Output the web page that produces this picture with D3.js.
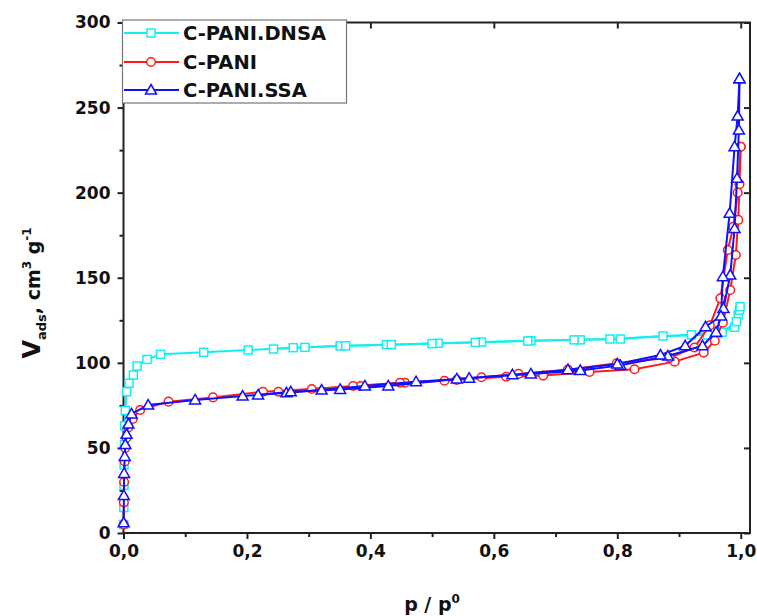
<!DOCTYPE html>
<html><head><meta charset="utf-8">
<script src="https://cdn.jsdelivr.net/npm/d3@7"></script>
<style>body{margin:0;background:#fff}svg{display:block}text{font-family:"DejaVu Sans",sans-serif;font-weight:bold}</style>
</head><body><svg id="c" width="757" height="616"></svg>
<script>
// ---- data ----
const seriesNames = ["C-PANI.DNSA", "C-PANI", "C-PANI.SSA"];
const xTicks = [0, 0.2, 0.4, 0.6, 0.8, 1.0];
const xTickLabels = ["0,0", "0,2", "0,4", "0,6", "0,8", "1,0"];
const yTicks = [0, 50, 100, 150, 200, 250, 300];
const yTickLabels = ["0", "50", "100", "150", "200", "250", "300"];

// C-PANI.DNSA adsorption / desorption
const dnsaAdsP = [0.0003, 0.0005, 0.0008, 0.001, 0.0015, 0.002, 0.003, 0.005, 0.009, 0.016, 0.022, 0.038, 0.060, 0.130, 0.202, 0.275, 0.351, 0.426, 0.51, 0.58, 0.66, 0.74, 0.805, 0.874, 0.946, 0.963, 0.990, 0.996, 0.998];
const dnsaAdsV = [5, 15, 28, 40, 52, 63, 72, 83, 88, 92.8, 98.1, 102, 105, 106.2, 107.5, 108.9, 109.9, 110.7, 111.5, 112.2, 113, 113.5, 114, 115.8, 116.4, 117.3, 120.9, 128.1, 131];
const dnsaDesP = [0.999, 0.993, 0.970, 0.92, 0.788, 0.73, 0.655, 0.57, 0.50, 0.434, 0.36, 0.294, 0.243];
const dnsaDesV = [133, 124.2, 118, 116.5, 114, 113.5, 112.8, 112, 111.3, 110.7, 110, 109.1, 108.1];

// C-PANI adsorption / desorption
const paniAdsP = [0.0003, 0.0006, 0.001, 0.002, 0.003, 0.005, 0.008, 0.015, 0.027, 0.073, 0.145, 0.226, 0.305, 0.384, 0.456, 0.54, 0.62, 0.68, 0.755, 0.828, 0.893, 0.94, 0.958, 0.971, 0.983, 0.992, 0.996, 0.998, 1.0];
const paniAdsV = [5, 18, 30, 42, 50, 56, 62, 67, 72.3, 77.2, 79.7, 83, 84.6, 86.4, 88.3, 90, 91.8, 92.5, 94.6, 96.2, 100.7, 106, 113, 123.6, 142.8, 163.4, 184, 205, 227];
const paniDesP = [1.0, 0.995, 0.988, 0.979, 0.967, 0.95, 0.925, 0.885, 0.799, 0.72, 0.64, 0.58, 0.52, 0.448, 0.372, 0.251];
const paniDesV = [227, 200, 180, 166.3, 137.9, 122, 109, 103, 99.7, 96, 93.5, 91.5, 89.5, 88.3, 86.4, 83];

// C-PANI.SSA adsorption / desorption
const ssaAdsP = [0.0003, 0.0006, 0.001, 0.002, 0.003, 0.005, 0.008, 0.013, 0.040, 0.116, 0.193, 0.264, 0.321, 0.391, 0.474, 0.56, 0.66, 0.74, 0.805, 0.882, 0.938, 0.96, 0.972, 0.983, 0.990, 0.994, 0.997, 0.998];
const ssaAdsV = [6, 22, 35, 45, 52, 58, 64, 70, 75.2, 78.2, 80.5, 82.4, 84, 86.4, 88.9, 91, 93.5, 95.5, 98.5, 104, 110, 118, 132, 151.6, 179, 208.4, 236.8, 267];
const ssaDesP = [0.998, 0.995, 0.990, 0.982, 0.971, 0.968, 0.943, 0.91, 0.87, 0.80, 0.72, 0.63, 0.54, 0.429, 0.351, 0.271, 0.218];
const ssaDesV = [267, 245, 227, 187.9, 150.6, 127.5, 121.2, 110, 104.6, 99.3, 96, 93, 90.5, 86.4, 84.4, 83, 81.1];

const colors = ["#13eef2", "#ff1a1a", "#1010ff"];
const shapes = ["square", "circle", "triangle"];

// ---- layout ----
const svg = d3.select("#c");
const x = d3.scaleLinear().domain([0, 1.015]).range([123.5, 750]);
const y = d3.scaleLinear().domain([0, 300]).range([533, 22.5]);

// ticks
const gx = svg.append("g").attr("transform", "translate(0,533)")
  .call(d3.axisBottom(x).tickValues(xTicks).tickFormat((d, i) => xTickLabels[i]).tickSize(6).tickPadding(6));
const gxm = svg.append("g").attr("transform", "translate(0,533)")
  .call(d3.axisBottom(x).tickValues([0.1, 0.3, 0.5, 0.7, 0.9]).tickFormat("").tickSize(4));
const gy = svg.append("g").attr("transform", "translate(123.5,0)")
  .call(d3.axisLeft(y).tickValues(yTicks).tickFormat((d, i) => yTickLabels[i]).tickSize(6).tickPadding(7));
const gym = svg.append("g").attr("transform", "translate(123.5,0)")
  .call(d3.axisLeft(y).tickValues([25, 75, 125, 175, 225, 275]).tickFormat("").tickSize(4));
const gxt = svg.append("g").attr("transform", "translate(0,22.5)")
  .call(d3.axisBottom(x).tickValues(xTicks).tickFormat("").tickSize(6));
const gyr = svg.append("g").attr("transform", "translate(750,0)")
  .call(d3.axisLeft(y).tickValues(yTicks).tickFormat("").tickSize(6));
[gx, gxm, gy, gym, gxt, gyr].forEach(g => {
  g.select(".domain").remove();
  g.selectAll("line").attr("stroke", "#222").attr("stroke-width", 2);
  g.selectAll("text").attr("font-size", 17).attr("fill", "#111").attr("font-weight", "bold")
    .attr("font-family", "DejaVu Sans");
});

// frame
svg.append("rect").attr("x", 123.5).attr("y", 22.5).attr("width", 750 - 123.5).attr("height", 533 - 22.5)
  .attr("fill", "none").attr("stroke", "#222").attr("stroke-width", 2);

// series
const data = [
  [{p: dnsaAdsP, v: dnsaAdsV}, {p: dnsaDesP, v: dnsaDesV}],
  [{p: paniAdsP, v: paniAdsV}, {p: paniDesP, v: paniDesV}],
  [{p: ssaAdsP, v: ssaAdsV}, {p: ssaDesP, v: ssaDesV}]
];
const line = d3.line().x(d => x(d[0])).y(d => y(d[1]));

function marker(g, shape, cx, cy, col) {
  if (shape === "square") {
    g.append("rect").attr("x", cx - 4).attr("y", cy - 4).attr("width", 8).attr("height", 8)
      .attr("fill", "#fff").attr("stroke", col).attr("stroke-width", 1.5);
  } else if (shape === "circle") {
    g.append("circle").attr("cx", cx).attr("cy", cy).attr("r", 4.3)
      .attr("fill", "#fff").attr("stroke", col).attr("stroke-width", 1.5);
  } else {
    g.append("path").attr("d", `M${cx},${cy - 5.5}L${cx + 5.5},${cy + 4}L${cx - 5.5},${cy + 4}Z`)
      .attr("fill", "#fff").attr("stroke", col).attr("stroke-width", 1.5);
  }
}

data.forEach((branches, si) => {
  const g = svg.append("g");
  branches.forEach(b => {
    const pts = b.p.map((p, i) => [p, b.v[i]]);
    g.append("path").attr("d", line(pts)).attr("fill", "none")
      .attr("stroke", colors[si]).attr("stroke-width", 2);
  });
  branches.forEach(b => {
    b.p.forEach((p, i) => marker(g, shapes[si], x(p), y(b.v[i]), colors[si]));
  });
});

// legend
const lg = svg.append("g");
lg.append("rect").attr("x", 122.5).attr("y", 20).attr("width", 224).attr("height", 83)
  .attr("fill", "#fff").attr("stroke", "#777").attr("stroke-width", 1.2);
const ly = [33, 62, 90];
seriesNames.forEach((n, i) => {
  lg.append("line").attr("x1", 124).attr("x2", 179).attr("y1", ly[i]).attr("y2", ly[i])
    .attr("stroke", colors[i]).attr("stroke-width", 2);
  marker(lg, shapes[i], 151, ly[i], colors[i]);
  lg.append("text").attr("x", 183).attr("y", ly[i] + 7).attr("font-size", 19.5).attr("fill", "#111").text(n);
});

// axis titles
const xt = svg.append("text").attr("x", 432).attr("y", 611).attr("text-anchor", "middle")
  .attr("font-size", 19).attr("fill", "#111");
xt.append("tspan").text("p / p");
xt.append("tspan").attr("dy", -8).attr("font-size", 12).text("0");

const yt = svg.append("text").attr("transform", "translate(40,293) rotate(-90)").attr("text-anchor", "middle")
  .attr("font-size", 19).attr("fill", "#111");
yt.append("tspan").attr("font-size", 24).text("V");
yt.append("tspan").attr("dy", 6).attr("font-size", 13).text("ads");
yt.append("tspan").attr("dy", -6).text(", cm");
yt.append("tspan").attr("dy", -9).attr("font-size", 12).text("3");
yt.append("tspan").attr("dy", 9).text(" g");
yt.append("tspan").attr("dy", -9).attr("font-size", 12).text("-1");
</script></body></html>
